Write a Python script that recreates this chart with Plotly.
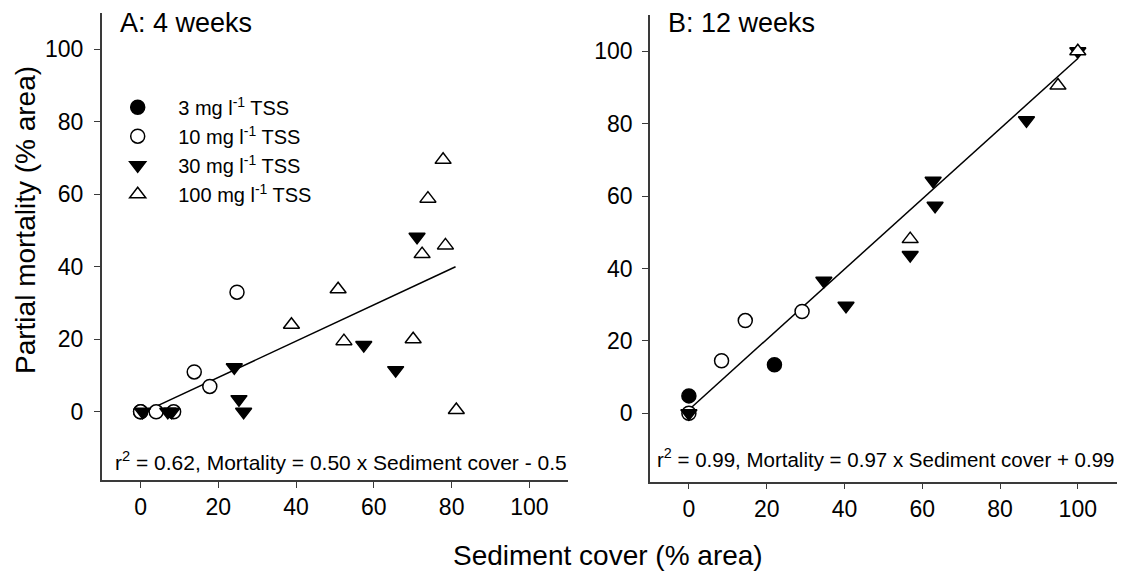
import plotly.graph_objects as go

# ---------------- data ----------------
# Panel A: 4 weeks
a_3_x = [0]
a_3_y = [0]
a_10_x = [0, 4, 8.5, 13.8, 17.8, 24.8]
a_10_y = [0, 0, 0, 11, 7, 33]
a_30_x = [0.5, 7, 8, 24.1, 25.3, 26.5, 57.4, 65.6, 71.1]
a_30_y = [0, 0, 0, 12.3, 3.5, 0, 18.4, 11.5, 48.3]
a_100_x = [38.8, 50.8, 52.3, 70.1, 72.4, 73.9, 77.8, 78.4, 81.2]
a_100_y = [24, 33.8, 19.5, 20, 43.5, 58.8, 69.5, 45.9, 0.5]

# Panel B: 12 weeks
b_3_x = [0, 22]
b_3_y = [4.8, 13.4]
b_10_x = [0, 8.4, 14.5, 29.1]
b_10_y = [0, 14.5, 25.6, 28.1]
b_30_x = [0, 34.7, 40.4, 56.9, 62.8, 63.3, 86.8, 100]
b_30_y = [0, 36.6, 29.7, 43.7, 64.2, 57.3, 80.9, 100]
b_100_x = [56.9, 94.9, 100]
b_100_y = [48.1, 90.5, 100]

# regression fits (slope, intercept, x-extent)
fit_a = {"slope": 0.50, "intercept": -0.5, "x": [4, 81]}
fit_b = {"slope": 0.97, "intercept": 0.99, "x": [0, 100]}

series_names = ["3 mg l<sup>-1</sup> TSS", "10 mg l<sup>-1</sup> TSS",
                "30 mg l<sup>-1</sup> TSS", "100 mg l<sup>-1</sup> TSS"]
x_ticks = [0, 20, 40, 60, 80, 100]
y_ticks = [0, 20, 40, 60, 80, 100]

FONT = "Liberation Sans, Arial, sans-serif"
styles = [
    dict(symbol="circle", size=14, color="black", line=dict(color="black", width=1.5)),
    dict(symbol="circle", size=14, color="white", line=dict(color="black", width=1.5)),
    dict(symbol="triangle-down", size=14, color="black", line=dict(color="black", width=1.5)),
    dict(symbol="triangle-up", size=14, color="white", line=dict(color="black", width=1.5)),
]

# page body has an 8px margin; figure is sized to fit the window
OFF = 8
W, H = 1132 - OFF, 571 - OFF
def X(p):
    return (p - OFF) / W
def Y(p):
    return 1 - (p - OFF) / H

fig = go.Figure()

def add_fit(fit, xa, ya):
    xs = fit["x"]
    ys = [fit["slope"] * v + fit["intercept"] for v in xs]
    fig.add_trace(go.Scatter(x=xs, y=ys, mode="lines", line=dict(color="black", width=1.5),
                             showlegend=False, xaxis=xa, yaxis=ya, hoverinfo="skip"))

add_fit(fit_a, "x", "y")
add_fit(fit_b, "x2", "y2")

panel_a = [(a_3_x, a_3_y), (a_10_x, a_10_y), (a_30_x, a_30_y), (a_100_x, a_100_y)]
panel_b = [(b_3_x, b_3_y), (b_10_x, b_10_y), (b_30_x, b_30_y), (b_100_x, b_100_y)]

for i, (xs, ys) in enumerate(panel_a):
    fig.add_trace(go.Scatter(x=xs, y=ys, mode="markers", marker=styles[i], name=series_names[i],
                             showlegend=True, xaxis="x", yaxis="y", cliponaxis=False))
for i, (xs, ys) in enumerate(panel_b):
    fig.add_trace(go.Scatter(x=xs, y=ys, mode="markers", marker=styles[i], name=series_names[i],
                             showlegend=False, xaxis="x2", yaxis="y2", cliponaxis=False))

axis_common = dict(showline=True, linecolor="#3a3a3a", linewidth=1.5, ticks="outside", ticklen=6,
                   tickwidth=1.2, tickcolor="#3a3a3a", showgrid=False, zeroline=False,
                   tickfont=dict(family=FONT, size=23, color="black"))

fig.update_layout(
    width=W, height=H,
    margin=dict(l=0, r=0, t=0, b=0, autoexpand=False),
    paper_bgcolor="white", plot_bgcolor="white",
    font=dict(family=FONT, color="black"),
    xaxis=dict(domain=[X(101.7), X(568.3)], range=[-10, 110], tickvals=x_ticks, anchor="y", **axis_common),
    yaxis=dict(domain=[Y(480), Y(13)], range=[-18.8, 110], tickvals=y_ticks, anchor="x",
               ticklabelstandoff=6, **axis_common),
    xaxis2=dict(domain=[X(650), X(1116.7)], range=[-10, 110], tickvals=x_ticks, anchor="y2", **axis_common),
    yaxis2=dict(domain=[Y(481.7), Y(15)], range=[-18.9, 110], tickvals=y_ticks, anchor="x2",
                ticklabelstandoff=5, **axis_common),
    legend=dict(x=X(97.2), y=Y(87.7), xanchor="left", yanchor="top", bgcolor="rgba(0,0,0,0)",
                font=dict(family=FONT, size=20, color="black"), itemwidth=71, tracegroupgap=0),
    showlegend=True,
)

ann = [
    dict(text="A: 4 weeks", x=X(118), y=Y(22.8), xanchor="left", yanchor="middle", size=27),
    dict(text="B: 12 weeks", x=X(666), y=Y(22.8), xanchor="left", yanchor="middle", size=27),
    dict(text="r<sup>2</sup> = 0.62, Mortality = 0.50 x Sediment cover - 0.5", x=X(112.7), y=Y(460.8),
         xanchor="left", yanchor="middle", size=21),
    dict(text="r<sup>2</sup> = 0.99, Mortality = 0.97 x Sediment cover + 0.99", x=X(655), y=Y(458.3),
         xanchor="left", yanchor="middle", size=20.5),
    dict(text="Sediment cover (% area)", x=X(607.5), y=Y(555), xanchor="center", yanchor="middle", size=28),
]
for a in ann:
    fig.add_annotation(text=a["text"], x=a["x"], y=a["y"], xref="paper", yref="paper",
                       xanchor=a["xanchor"], yanchor=a["yanchor"], showarrow=False,
                       font=dict(family=FONT, size=a["size"], color="black"))
fig.add_annotation(text="Partial mortality (% area)", x=X(25), y=Y(220), xref="paper", yref="paper",
                   xanchor="center", yanchor="middle", textangle=-90, showarrow=False,
                   font=dict(family=FONT, size=28, color="black"))

fig.write_html("out.html")
